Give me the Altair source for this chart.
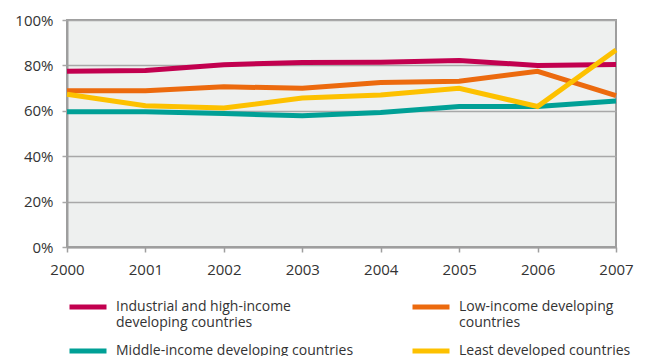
import altair as alt
import pandas as pd

years = [2000, 2001, 2002, 2003, 2004, 2005, 2006, 2007]
industrial = [77.4, 77.8, 80.3, 81.3, 81.4, 82.2, 80.0, 80.4]
low_income = [68.8, 68.8, 70.6, 69.9, 72.5, 73.0, 77.4, 66.7]
middle_income = [59.6, 59.6, 58.8, 57.8, 59.3, 61.9, 61.9, 64.3]
least_dev = [67.3, 62.2, 61.2, 65.6, 67.0, 69.9, 61.9, 86.8]

series_names = [
    "Industrial and high-income|developing countries",
    "Low-income developing|countries",
    "Middle-income developing countries",
    "Least developed countries",
]
series_values = [industrial, low_income, middle_income, least_dev]
colors = ["#C2004F", "#EC6A0E", "#00A096", "#FDC100"]
y_ticks = [0, 20, 40, 60, 80, 100]

rows = []
for name, vals in zip(series_names, series_values):
    for yr, v in zip(years, vals):
        rows.append({"year": yr, "value": v, "series": name})
df = pd.DataFrame(rows)

FONT = "Open Sans"

chart = alt.Chart(df).mark_line(strokeWidth=5, strokeJoin="miter").encode(
    x=alt.X("year:Q", scale=alt.Scale(domain=[2000, 2007], nice=False, zero=False),
            axis=alt.Axis(values=years, format="d", title=None, grid=False,
                          tickSize=5, tickColor="#9E9E9E", tickWidth=1.5,
                          domainColor="#9E9E9E", domainWidth=2,
                          labelFontSize=15, labelColor="#333333", labelFont=FONT,
                          labelPadding=10, labelFlush=False)),
    y=alt.Y("value:Q", scale=alt.Scale(domain=[0, 100], nice=False),
            axis=alt.Axis(values=y_ticks, title=None, labelExpr="datum.value + '%'",
                          grid=True, gridColor="#A8A8A8", gridWidth=1.5,
                          tickSize=5, tickColor="#A8A8A8", tickWidth=1.5,
                          domainColor="#9E9E9E", domainWidth=2,
                          labelFontSize=15, labelColor="#333333", labelFont=FONT,
                          labelPadding=9)),
    color=alt.Color("series:N", sort=series_names,
                    scale=alt.Scale(domain=series_names, range=colors),
                    legend=alt.Legend(title=None, orient="none", legendX=0, legendY=266,
                                      direction="horizontal",
                                      columns=2, columnPadding=48, rowPadding=-3,
                                      symbolType="stroke", symbolSize=1369,
                                      symbolStrokeWidth=5,
                                      labelExpr="split(datum.label, '|')",
                                      labelBaseline="middle", labelFontSize=14,
                                      labelFont=FONT, labelColor="#333333",
                                      labelLimit=400, labelOffset=7, padding=0)),
).properties(
    width=549, height=227,
    autosize=alt.AutoSizeParams(type="none"),
    padding={"left": 67, "top": 20, "right": 32, "bottom": 109},
    background="white",
).configure_view(
    fill="#EEF0EF", stroke="#9E9E9E", strokeWidth=2
)

chart.save("out.html", embed_options={"renderer": "svg", "actions": False})
